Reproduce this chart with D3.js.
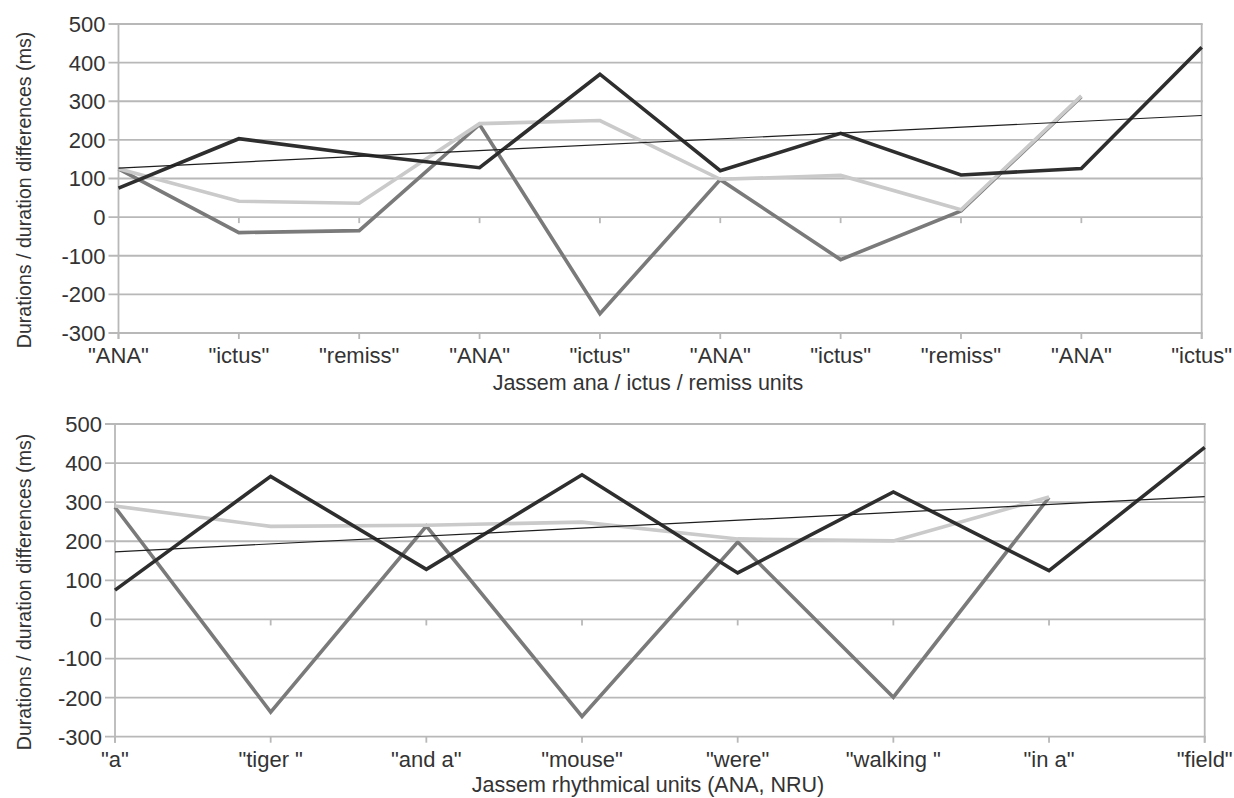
<!DOCTYPE html>
<html>
<head>
<meta charset="utf-8">
<script src="https://cdn.jsdelivr.net/npm/d3@7"></script>
<style>
  html, body { margin: 0; padding: 0; background: #fff; }
  svg { display: block; }
  text { font-family: "Liberation Sans", Arial, sans-serif; fill: #333; }
</style>
</head>
<body>
<svg id="chart" width="1234" height="798"></svg>
<script>
// ---------- data ----------
const topCategories = ['"ANA"', '"ictus"', '"remiss"', '"ANA"', '"ictus"', '"ANA"', '"ictus"', '"remiss"', '"ANA"', '"ictus"'];
const topDark  = [75, 203, 163, 128, 370, 120, 217, 109, 126, 440];
const topLight = [125, 41, 36, 242, 250, 98, 108, 19, 314, null];
const topMid   = [125, -40, -35, 240, -250, 97, -110, 16, 312, null];

const bottomCategories = ['"a"', '"tiger "', '"and a"', '"mouse"', '"were"', '"walking "', '"in a"', '"field"'];
const bottomDark  = [75, 366, 128, 370, 119, 326, 125, 440];
const bottomLight = [290, 238, 241, 249, 206, 201, 313, null];
const bottomMid   = [287, -237, 239, -248, 198, -199, 312, null];

const yTicks = [-300, -200, -100, 0, 100, 200, 300, 400, 500];
const yTitle = "Durations / duration differences (ms)";
const topXTitle = "Jassem ana / ictus / remiss units";
const bottomXTitle = "Jassem rhythmical units (ANA, NRU)";

// ---------- drawing ----------
const svg = d3.select("#chart");

function linearTrend(values) {
  const n = values.length;
  const xm = d3.mean(values, (d, i) => i);
  const ym = d3.mean(values);
  let sxy = 0, sxx = 0;
  values.forEach((v, i) => { sxy += (i - xm) * (v - ym); sxx += (i - xm) * (i - xm); });
  const slope = sxy / sxx;
  const intercept = ym - slope * xm;
  return [0, n - 1].map(i => ({ i, v: intercept + slope * i }));
}

function drawPanel(cfg) {
  const g = svg.append("g");
  const x = d3.scalePoint().domain(d3.range(cfg.categories.length)).range([cfg.x0, cfg.x1]).padding(0);
  const y = d3.scaleLinear().domain([-300, 500]).range([cfg.yBottom, cfg.yTop]);
  const gridColor = "#b8b8b8";

  // gridlines
  g.append("g").selectAll("line").data(yTicks).join("line")
    .attr("x1", cfg.x0 - 10).attr("x2", cfg.x1 + 1)
    .attr("y1", d => y(d)).attr("y2", d => y(d))
    .attr("stroke", gridColor).attr("stroke-width", 1.8);

  // left & right vertical lines
  [cfg.x0, cfg.x1].forEach(xx => {
    g.append("line").attr("x1", xx).attr("x2", xx)
      .attr("y1", cfg.yTop).attr("y2", cfg.yBottom + 6)
      .attr("stroke", gridColor).attr("stroke-width", 1.8);
  });

  // category ticks at bottom axis
  g.append("g").selectAll("line").data(d3.range(cfg.categories.length)).join("line")
    .attr("x1", d => x(d)).attr("x2", d => x(d))
    .attr("y1", cfg.yBottom).attr("y2", cfg.yBottom + 6)
    .attr("stroke", gridColor).attr("stroke-width", 1.8);
  // small category ticks below zero line
  g.append("g").selectAll("line").data(d3.range(1, cfg.categories.length - 1)).join("line")
    .attr("x1", d => x(d)).attr("x2", d => x(d))
    .attr("y1", y(0)).attr("y2", y(0) + 6)
    .attr("stroke", gridColor).attr("stroke-width", 1.8);

  // y tick labels
  g.append("g").selectAll("text").data(yTicks).join("text")
    .attr("x", cfg.x0 - 13).attr("y", d => y(d))
    .attr("dy", "0.36em").attr("text-anchor", "end")
    .style("font-size", "22px")
    .text(d => d);

  // x tick labels
  g.append("g").selectAll("text").data(cfg.categories).join("text")
    .attr("x", (d, i) => x(i)).attr("y", cfg.yBottom + 30)
    .attr("text-anchor", "middle")
    .style("font-size", "22px")
    .text(d => d);

  // x title
  g.append("text").attr("x", cfg.xTitleX).attr("y", cfg.yBottom + cfg.xTitleDy)
    .attr("text-anchor", "middle").style("font-size", "21.5px")
    .text(cfg.xTitle);

  // y title
  g.append("text")
    .attr("transform", `translate(${cfg.yTitleX},${cfg.yTitleY}) rotate(-90)`)
    .attr("text-anchor", "middle").style("font-size", "19.6px")
    .text(yTitle);

  const line = d3.line()
    .defined(d => d.v !== null)
    .x(d => x(d.i)).y(d => y(d.v));

  const series = [
    { values: cfg.mid, color: "#7a7a7a" },
    { values: cfg.light, color: "#cacaca" },
    { values: cfg.dark, color: "#2e2e2e" }
  ];
  series.forEach(s => {
    g.append("path")
      .datum(s.values.map((v, i) => ({ i, v })))
      .attr("d", line)
      .attr("fill", "none").attr("stroke", s.color)
      .attr("stroke-width", 3.6).attr("stroke-linejoin", "miter");
  });

  // linear trend of dark series
  g.append("path")
    .datum(linearTrend(cfg.dark))
    .attr("d", line)
    .attr("fill", "none").attr("stroke", "#1e1e1e").attr("stroke-width", 1.2);
}

drawPanel({
  categories: topCategories, dark: topDark, light: topLight, mid: topMid,
  x0: 118.5, x1: 1201.7, yTop: 24, yBottom: 333,
  xTitle: topXTitle, xTitleX: 648, xTitleDy: 57, yTitleX: 31, yTitleY: 190
});

drawPanel({
  categories: bottomCategories, dark: bottomDark, light: bottomLight, mid: bottomMid,
  x0: 115, x1: 1204.7, yTop: 424, yBottom: 736.7,
  xTitle: bottomXTitle, xTitleX: 648, xTitleDy: 55, yTitleX: 31, yTitleY: 592
});
</script>
</body>
</html>
